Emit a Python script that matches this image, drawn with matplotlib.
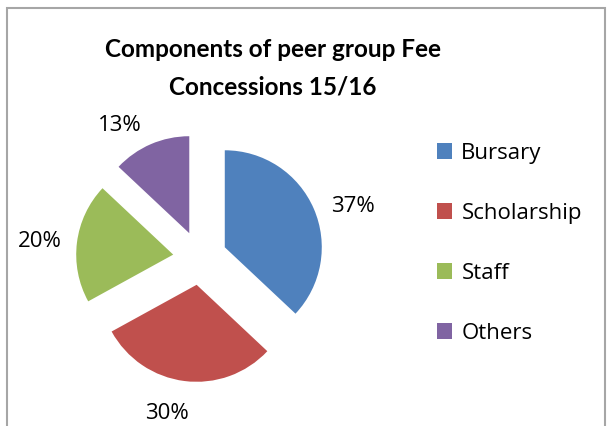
import matplotlib.pyplot as plt
from matplotlib.patches import Rectangle

labels = ["Bursary", "Scholarship", "Staff", "Others"]
shares = [37, 30, 20, 13]
colors = ["#4F81BD", "#C0504D", "#9BBB59", "#8064A2"]
title = "Components of peer group Fee\nConcessions 15/16"

plt.rcParams['font.family'] = ['Open Sans', 'DejaVu Sans']

fig = plt.figure(figsize=(6.11, 4.26), dpi=100)
ax = fig.add_axes([0, 0, 1, 1])

# chart area border (bottom runs off the image)
ax.add_patch(Rectangle((7, -20), 598, 438, fill=False, edgecolor="#A6A6A6", lw=1.5))

r = 97
wedges, texts, autotexts = ax.pie(
    shares, colors=colors, startangle=90, counterclock=False,
    explode=[27] * 4, radius=r, center=(200, 168),
    autopct=lambda p: "{:.0f}%".format(p), pctdistance=1.37,
    textprops=dict(fontsize=16, color="black"),
    wedgeprops=dict(linewidth=0), frame=True)

# excel-like label placement, small nudges
nudges = [(6, -12), (-13, 3), (-2, -4), (-17, -14)]
for t, (dx, dy) in zip(autotexts, nudges):
    x, y = t.get_position()
    t.set_position((x + dx, y + dy))

ax.set_xlim(0, 611)
ax.set_ylim(0, 426)
ax.set_aspect('equal')
ax.axis('off')

ax.text(273, 358, title, ha='center', va='center', fontsize=17.5,
        fontweight='bold', family=['Lato', 'DejaVu Sans'], linespacing=1.75)

ax.legend(wedges, labels, loc='upper left', bbox_to_anchor=(428, 292),
          bbox_transform=ax.transData, frameon=False, fontsize=16,
          handlelength=0.7, handleheight=0.7, handletextpad=0.4,
          labelspacing=1.75, borderaxespad=0)

fig.savefig("out.png", dpi=100)
